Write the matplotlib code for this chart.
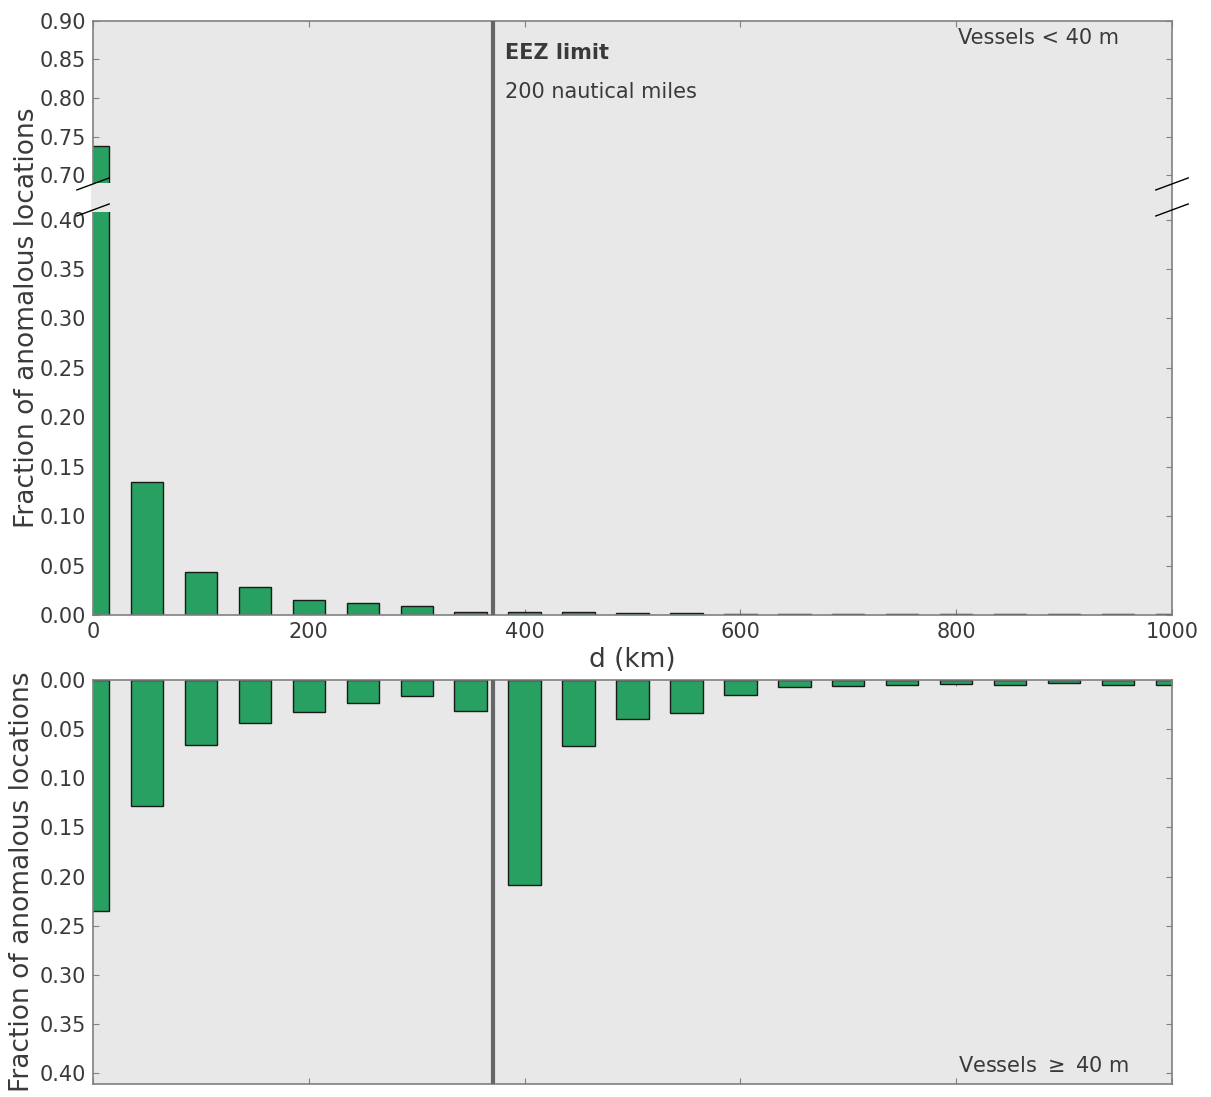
import matplotlib.pyplot as plt
import matplotlib.transforms as mtransforms
from matplotlib.patches import Rectangle
import numpy as np

# distance bins (km), bar centres
d_km = np.arange(0, 1001, 50)

# fraction of anomalous locations per bin
small_vessels = [0.738, 0.135, 0.043, 0.028, 0.015, 0.012, 0.009, 0.003,
                 0.0027, 0.0027, 0.0017, 0.0017, 0.0013, 0.0013, 0.0007,
                 0.0007, 0.001, 0.0007, 0.0007, 0.0007, 0.0007]
large_vessels = [0.235, 0.128, 0.066, 0.044, 0.033, 0.023, 0.016, 0.031,
                 0.209, 0.067, 0.040, 0.034, 0.015, 0.007, 0.0064, 0.0054,
                 0.0037, 0.0047, 0.0027, 0.0047, 0.0054]

eez_km = 370.4  # 200 nautical miles

bar_color = '#27a062'
bg = '#e8e8e8'
txt = '#3a3a3a'
spine_c = '#808080'

plt.rcParams['font.family'] = 'DejaVu Sans'
plt.rcParams['text.color'] = txt

# broken y axis for the top panel: piecewise-linear scale
brk_lo, brk_hi = 0.408, 0.69
knots_y = [0.0, brk_lo, brk_hi, 0.90]
knots_p = [0.0, 403.0, 432.0, 593.7]
s_lo = knots_p[1] / knots_y[1]
s_hi = (knots_p[3] - knots_p[2]) / (knots_y[3] - knots_y[2])


def fwd(y):
    y = np.asarray(y, dtype=float)
    out = np.interp(y, knots_y, knots_p)
    out = np.where(y < 0, y * s_lo, out)
    out = np.where(y > 0.90, knots_p[3] + (y - 0.90) * s_hi, out)
    return out


def inv(p):
    p = np.asarray(p, dtype=float)
    out = np.interp(p, knots_p, knots_y)
    out = np.where(p < 0, p / s_lo, out)
    out = np.where(p > knots_p[3], 0.90 + (p - knots_p[3]) / s_hi, out)
    return out


fig = plt.figure(figsize=(12.11, 10.97), dpi=100)
ax1 = fig.add_axes([0.0768, 0.4394, 0.891, 0.5415])
ax2 = fig.add_axes([0.0768, 0.01185, 0.891, 0.36825])

for ax in (ax1, ax2):
    ax.set_facecolor(bg)
    for sp in ax.spines.values():
        sp.set_color(spine_c)
        sp.set_linewidth(1.2)
    ax.tick_params(direction='in', length=4, width=0.8, colors=spine_c,
                   labelcolor=txt, labelsize=15, top=True, right=True, pad=5)
    ax.set_xlim(0, 1000)
    ax.set_xticks(np.arange(0, 1001, 200))
    ax.axvline(eez_km, color='#666666', lw=3, zorder=3)

# top panel: vessels < 40 m
ax1.set_yscale('function', functions=(fwd, inv))
ax1.bar(d_km, small_vessels, width=30, color=bar_color, edgecolor='#1a1a1a',
        linewidth=1, zorder=2)
ax1.set_ylim(0, 0.90)
ax1.set_yticks(list(np.arange(0, 0.401, 0.05)) + list(np.arange(0.70, 0.901, 0.05)))
ax1.set_yticklabels(['%.2f' % v for v in ax1.get_yticks()])
ax1.yaxis.set_minor_locator(plt.NullLocator())

gap = Rectangle((-0.002, brk_lo), 1.001, brk_hi - brk_lo,
                transform=mtransforms.blended_transform_factory(ax1.transAxes, ax1.transData),
                facecolor=bg, edgecolor='none', clip_on=False, zorder=2.7)
ax1.add_patch(gap)

# diagonal break marks
dx, dy = 0.015, 0.0101
for yc in (0.7256, 0.6818):
    for xc in (0.0, 1.0):
        ax1.plot((xc - dx, xc + dx), (yc - dy, yc + dy), color='black', lw=1,
                 transform=ax1.transAxes, clip_on=False, zorder=5)

ax1.set_xlabel('d (km)', fontsize=19, color=txt, labelpad=4)
ax1.text(382, 0.858, 'EEZ limit', fontsize=15, fontweight='bold', va='center')
ax1.text(382, 0.808, '200 nautical miles', fontsize=15, va='center')
ax1.text(802, 0.878, 'Vessels < 40 m', fontsize=15, va='center')

# bottom panel: vessels >= 40 m
ax2.bar(d_km, large_vessels, width=30, color=bar_color, edgecolor='#1a1a1a',
        linewidth=1, zorder=2)
ax2.set_ylim(0.411, 0)
ax2.set_yticks(np.arange(0, 0.401, 0.05))
ax2.set_yticklabels(['%.2f' % v for v in ax2.get_yticks()])
ax2.tick_params(labelbottom=False)
ax2.text(802, 0.393, r'Vessels $\geq$ 40 m', fontsize=15, va='center')

fig.text(27 / 1211, 1 - 318 / 1097, 'Fraction of anomalous locations',
         rotation=90, ha='center', va='center', fontsize=19, color=txt)
fig.text(22 / 1211, 1 - 882 / 1097, 'Fraction of anomalous locations',
         rotation=90, ha='center', va='center', fontsize=19, color=txt)

fig.savefig('out.png', dpi=100)
